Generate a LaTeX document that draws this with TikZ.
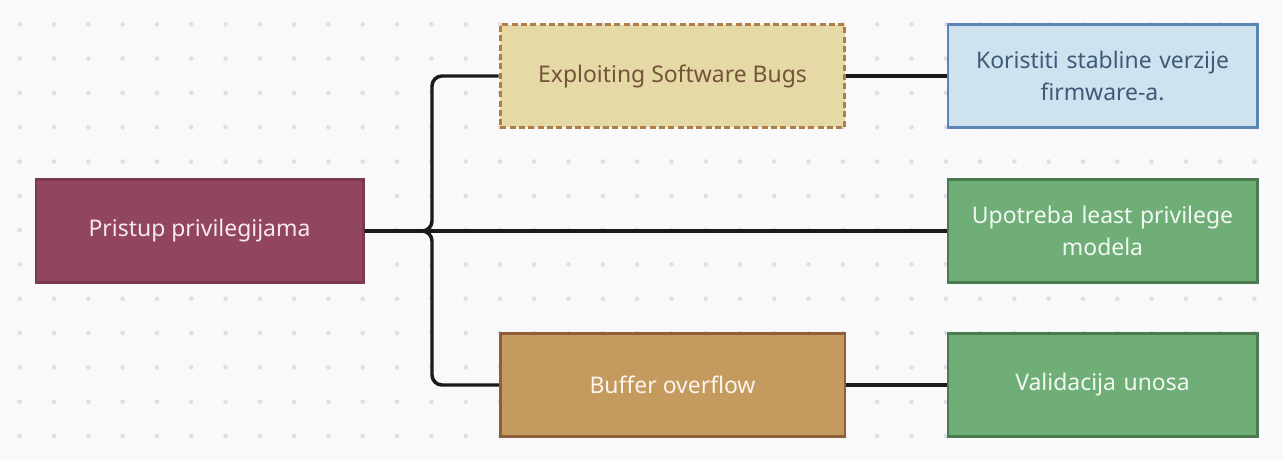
\documentclass[tikz,border=0pt]{standalone}
\usepackage{fontspec}
\setmainfont{Noto Sans}
\definecolor{bgc}{HTML}{F9F9FB}
\definecolor{dotc}{HTML}{DFDFE3}
\definecolor{linec}{HTML}{1A1A1A}
\definecolor{rootfill}{HTML}{914560}
\definecolor{rootdraw}{HTML}{7B3A52}
\definecolor{roottext}{HTML}{F7EAEE}
\definecolor{expfill}{HTML}{E5D9A5}
\definecolor{expdraw}{HTML}{B07D46}
\definecolor{exptext}{HTML}{74533A}
\definecolor{kofill}{HTML}{CFE2F0}
\definecolor{kodraw}{HTML}{5A86B4}
\definecolor{kotext}{HTML}{3F5A76}
\definecolor{grfill}{HTML}{70AE78}
\definecolor{grdraw}{HTML}{4A7B50}
\definecolor{grtext}{HTML}{F2F8F2}
\definecolor{buffill}{HTML}{C49A5E}
\definecolor{bufdraw}{HTML}{8E5F36}
\definecolor{buftext}{HTML}{FBF5EE}
\tikzset{
  box/.style={rectangle, line width=2pt, minimum height=77pt, align=center,
    inner sep=4pt, font=\fontsize{17.2}{24}\selectfont},
  rootbox/.style={box, fill=rootfill, draw=rootdraw, text=roottext, minimum width=245.5pt},
  expbox/.style={box, fill=expfill, draw=expdraw, text=exptext, line width=2.2pt, dash pattern=on 4.5pt off 2.5pt, minimum width=258.5pt},
  kobox/.style={box, fill=kofill, draw=kodraw, text=kotext, minimum width=232pt, text width=222pt},
  grbox/.style={box, fill=grfill, draw=grdraw, text=grtext, minimum width=232pt, text width=222pt},
  bufbox/.style={box, fill=buffill, draw=bufdraw, text=buftext, minimum width=258.5pt},
  conn/.style={draw=linec, line width=2.6pt, rounded corners=7.5pt}
}
\begin{document}
\begin{tikzpicture}[x=0.75pt,y=-0.75pt]
\fill[bgc] (0,0) rectangle (1283,461);
\useasboundingbox (0,0) rectangle (1283,461);
\foreach \i in {0,...,36} {
  \foreach \j in {0,...,12} {
    \fill[dotc] ({19.7+34.3*\i},{24.3+34.3*\j}) circle (1.7pt);
  }
}
\node[rootbox] (root) at (199.5,231) {Pristup privilegijama};
\node[expbox] (exp) at (672.5,76) {Exploiting Software Bugs};
\node[kobox] (ko) at (1102.5,76) {Koristiti stabline verzije\\firmware-a.};
\node[grbox] (up) at (1102.5,231) {Upotreba least privilege\\modela};
\node[bufbox] (buf) at (672.5,385) {Buffer overflow};
\node[grbox] (val) at (1102.5,385) {Validacija unosa};
\coordinate (fork) at (432,231);
\path[conn] (root.east) -- (fork) |- (exp.west);
\path[conn] (root.east) -- (fork) |- (buf.west);
\path[conn] (root.east) -- (up.west);
\path[conn] (exp.east) -- (ko.west);
\path[conn] (buf.east) -- (val.west);
\end{tikzpicture}
\end{document}
